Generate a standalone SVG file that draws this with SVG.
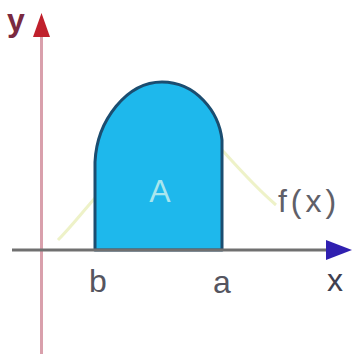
<svg xmlns="http://www.w3.org/2000/svg" width="353" height="356" viewBox="0 0 353 356">
<style>
.lbl{font-family:"Liberation Sans",Arial,sans-serif;font-size:32px}
</style>
<rect width="353" height="356" fill="#ffffff"/>
<g id="curve">
<path d="M58,240 C70,228 80,215 95,198 M222,150 C240,170 256,188 276,205" fill="none" stroke="#eef2c8" stroke-width="3"/>
</g>
<g id="area">
<path d="M95,250 L95,162 C97,120 127,82 162,82 C196,82 219,112 222,140 L222,250 Z" fill="#1eb8ec" stroke="#1b4d70" stroke-width="3" stroke-linejoin="round"/>
<text class="lbl" x="160" y="202" text-anchor="middle" fill="#a9e6ee" font-size="40">A</text>
</g>
<g id="axes">
<line x1="41.5" y1="32" x2="41.5" y2="354" stroke="#d9a0ac" stroke-width="3"/>
<polygon points="41.5,13 33,37 50,37" fill="#c0202c"/>
<line x1="12" y1="250" x2="330" y2="250" stroke="#707070" stroke-width="3"/>
<polygon points="352,250 326,240 326,260" fill="#3020b0"/>
</g>
<g id="labels">
<text class="lbl" x="16" y="31" text-anchor="middle" fill="#7a2a40" font-weight="bold" font-size="30">y</text>
<text class="lbl" x="335" y="291" text-anchor="middle" fill="#404050">x</text>
<text class="lbl" x="98" y="292" text-anchor="middle" fill="#555560">b</text>
<text class="lbl" x="222" y="293" text-anchor="middle" fill="#555560">a</text>
<text class="lbl" x="309" y="212" text-anchor="middle" fill="#606068" letter-spacing="4">f(x)</text>
</g>
</svg>
